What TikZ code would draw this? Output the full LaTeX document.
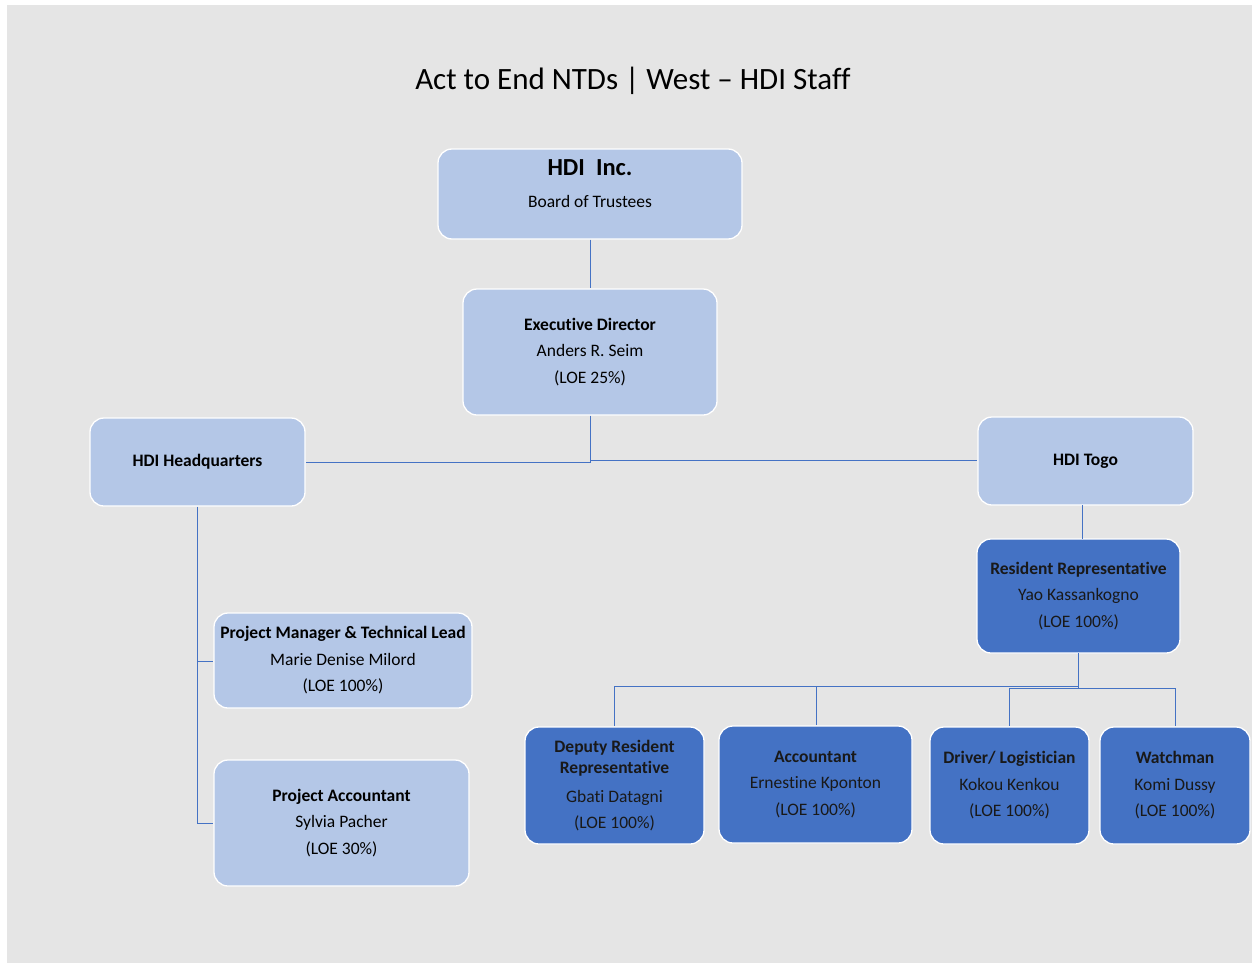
\documentclass[tikz,border=0pt]{standalone}
\usepackage{fontspec}
\setmainfont{Carlito}[Ligatures=NoCommon]
\definecolor{bg}{HTML}{E5E5E5}
\definecolor{light}{HTML}{B4C7E7}
\definecolor{dark}{HTML}{4472C4}
\definecolor{linec}{HTML}{4472C4}
\begin{document}
\begin{tikzpicture}[x=1pt,y=-1pt,
  box/.style={draw=white, line width=1.3pt, rounded corners=14pt, fill=light, align=center, inner sep=0pt, text=black,
    font=\fontsize{17.5}{26.5}\selectfont},
  darkbox/.style={box, fill=dark, text=black!90},
  conn/.style={draw=linec, line width=1pt},
  lbl/.style={inner sep=0pt, text=black}]
\useasboundingbox (0,0) rectangle (1252,966);
\fill[white] (0,0) rectangle (1252,966);
\fill[bg] (7,5) rectangle (1252,963);
\node[lbl, font=\fontsize{31}{36}\selectfont] (title) at (633,81) {Act to End NTDs | West -- HDI Staff};

% boxes
\node[box, minimum width=304, minimum height=90] (inc) at (590,194) {};
\node[lbl, font=\fontsize{24.5}{28}\selectfont\bfseries] (incA) at (590,168) {HDI\ \ Inc.};
\node[lbl, font=\fontsize{17.5}{20}\selectfont] (incB) at (590,201) {Board of Trustees};
\node[box, minimum width=254, minimum height=126] (ed) at (590,352) {\textbf{Executive Director}\\Anders R. Seim\\(LOE 25\%)};
\node[box, minimum width=215, minimum height=88] (hq) at (197.5,462) {\textbf{HDI Headquarters}};
\node[box, minimum width=215, minimum height=88] (togo) at (1085.5,461) {\textbf{HDI Togo}};
\node[darkbox, minimum width=203, minimum height=114] (rr) at (1078.5,596) {\textbf{Resident Representative}\\Yao Kassankogno\\(LOE 100\%)};
\node[box, minimum width=258, minimum height=95] (pm) at (343,660.5) {\textbf{Project Manager \& Technical Lead}\\Marie Denise Milord\\(LOE 100\%)};
\node[box, minimum width=255, minimum height=126] (pa) at (341.5,823) {\textbf{Project Accountant}\\Sylvia Pacher\\(LOE 30\%)};
\node[darkbox, minimum width=179, minimum height=117] (dep) at (614.5,785.5) {\textbf{Deputy Resident}\\[-5.5pt]\textbf{Representative}\\[2.5pt]Gbati Datagni\\(LOE 100\%)};
\node[darkbox, minimum width=193, minimum height=117] (acc) at (815.5,784.5) {\textbf{Accountant}\\Ernestine Kponton\\(LOE 100\%)};
\node[darkbox, minimum width=159, minimum height=117] (drv) at (1009.5,785.5) {\textbf{Driver/ Logistician}\\Kokou Kenkou\\(LOE 100\%)};
\node[darkbox, minimum width=150, minimum height=117] (wat) at (1175,785.5) {\textbf{Watchman}\\Komi Dussy\\(LOE 100\%)};

% connectors
\draw[conn] (inc.south) -- (ed.north);
\draw[conn] (ed.south) -- (590,462) -- (hq.east |- 0,462);
\draw[conn] (590,460) -- (togo.west |- 0,460);
\coordinate (togoB) at (1082,505);
\coordinate (rrT) at (1082,539);
\draw[conn] (togoB) -- (rrT);
\coordinate (rrB) at (1078,653);
\draw[conn] (rrB) -- (1078,686) -- (614,686) -- (dep.north -| 614,0);
\draw[conn] (1078,686) -- (816,686) -- (acc.north -| 816,0);
\draw[conn] (1078,686) -- (1078,688) -- (1009,688) -- (drv.north -| 1009,0);
\draw[conn] (1078,688) -- (1175,688) -- (wat.north);
\draw[conn] (hq.south -| 197,0) -- (197,823) -- (pa.west |- 0,823);
\draw[conn] (197,661) -- (pm.west |- 0,661);
\end{tikzpicture}
\end{document}
